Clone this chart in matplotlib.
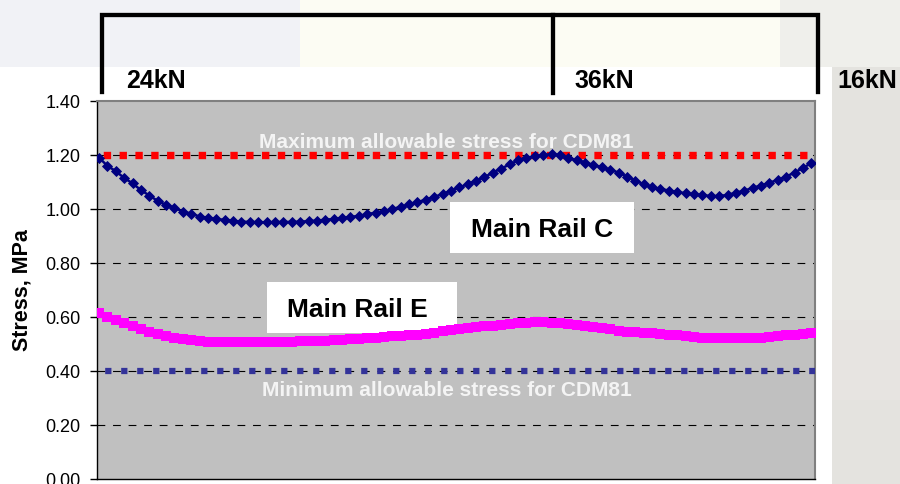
import numpy as np
import matplotlib
matplotlib.use('Agg')
import matplotlib.pyplot as plt
from matplotlib.patches import Rectangle
from matplotlib.lines import Line2D
from matplotlib.transforms import Affine2D

plt.rcParams['font.family'] = ['Liberation Sans', 'DejaVu Sans']

# Stress along the rail (MPa)
rail_c = [
    1.190, 1.160, 1.140, 1.115, 1.095, 1.070, 1.050, 1.030, 1.015, 1.005,
    0.990, 0.983, 0.972, 0.968, 0.962, 0.960, 0.955, 0.953, 0.952, 0.951,
    0.951, 0.951, 0.952, 0.952, 0.953, 0.955, 0.957, 0.960, 0.963, 0.967,
    0.970, 0.975, 0.980, 0.987, 0.992, 1.000, 1.008, 1.017, 1.025, 1.035,
    1.045, 1.055, 1.068, 1.080, 1.092, 1.105, 1.118, 1.135, 1.150, 1.165,
    1.180, 1.190, 1.195, 1.200, 1.203, 1.200, 1.190, 1.180, 1.172, 1.163,
    1.155, 1.145, 1.135, 1.120, 1.105, 1.092, 1.080, 1.075, 1.068, 1.063,
    1.058, 1.054, 1.051, 1.048, 1.048, 1.052, 1.060, 1.068, 1.078, 1.087,
    1.097, 1.108, 1.120, 1.135, 1.152, 1.170,
]
rail_e = [
    0.615, 0.600, 0.590, 0.578, 0.565, 0.555, 0.546, 0.537, 0.528, 0.522,
    0.517, 0.513, 0.510, 0.508, 0.507, 0.507, 0.507, 0.507, 0.508, 0.508,
    0.508, 0.508, 0.509, 0.509, 0.510, 0.510, 0.511, 0.512, 0.514, 0.516,
    0.518, 0.520, 0.522, 0.524, 0.526, 0.528, 0.530, 0.532, 0.535, 0.538,
    0.542, 0.547, 0.552, 0.556, 0.559, 0.562, 0.565, 0.568, 0.571, 0.574,
    0.577, 0.579, 0.580, 0.580, 0.579, 0.576, 0.573, 0.570, 0.566, 0.562,
    0.558, 0.554, 0.550, 0.546, 0.543, 0.541, 0.539, 0.536, 0.534, 0.532,
    0.530, 0.527, 0.524, 0.522, 0.521, 0.521, 0.521, 0.521, 0.521, 0.522,
    0.525, 0.529, 0.533, 0.535, 0.538, 0.541,
]
max_stress = 1.20
min_stress = 0.40
yticks = [0.0, 0.2, 0.4, 0.6, 0.8, 1.0, 1.2, 1.4]

ylabel = 'Stress, MPa'
max_label = 'Maximum allowable stress for CDM81'
min_label = 'Minimum allowable stress for CDM81'
series_labels = ['Main Rail C', 'Main Rail E']
load_labels = ['24kN', '36kN', '16kN']

# Figure in pixels
W, H = 900, 484
fig = plt.figure(figsize=(W / 100, H / 100), dpi=100)
fig.patch.set_facecolor('white')
# pixel coords, origin top-left
px = Affine2D().scale(1 / W, -1 / H).translate(0, 1) + fig.transFigure

# Faded photo behind the chart
for (x0, y0, w, h, c) in [
    (0, 0, 900, 67, '#F1F2F6'),
    (300, 0, 480, 67, '#FCFCF3'),
    (780, 0, 120, 67, '#EFEFEB'),
    (832, 67, 68, 417, '#E4E3DF'),
    (832, 200, 68, 120, '#E8E7E3'),
    (832, 320, 68, 80, '#E7E4E1'),
]:
    fig.add_artist(Rectangle((x0, y0), w, h, transform=px, fc=c, ec='none', zorder=-1))

# Main axes
ax = fig.add_axes([97 / W, 5 / H, 718 / W, 378 / H])
ax.set_facecolor('#C0C0C0')
xs = np.arange(len(rail_c))
ax.set_xlim(-0.24, len(rail_c) - 1 + 0.44)
ax.set_ylim(0, 1.4)
ax.set_xticks([])
ax.set_yticks(yticks)
ax.set_yticklabels([f'{v:.2f}' for v in yticks])
ax.tick_params(axis='y', direction='out', length=5, width=1, pad=7, labelsize=13, colors='black')
for s in ['left', 'bottom']:
    ax.spines[s].set_color('black')
    ax.spines[s].set_linewidth(1.0)
for s in ['top', 'right']:
    ax.spines[s].set_color('#808080')
    ax.spines[s].set_linewidth(1.5)

# Grid lines
for v in yticks[1:-1]:
    ax.axhline(v, color='black', lw=0.8, ls=(0, (7, 7)), zorder=1)

# Allowable stress limits
ax.axhline(max_stress, color='#FF0000', lw=5.3, ls=(1.3, (1, 1.15)), zorder=3)
ax.axhline(min_stress, color='#333399', lw=4.5, ls=(1.25, (1, 1.56)), zorder=3)
ax.text(446, 148, max_label, transform=px, ha='center', va='baseline',
        fontsize=15, fontweight='bold', color='#F4F4F4', zorder=3)
ax.text(447, 396, min_label, transform=px, ha='center', va='baseline',
        fontsize=15, fontweight='bold', color='#F4F4F4', zorder=3)

# Series label boxes
ax.add_patch(Rectangle((450, 202), 184, 51, transform=px, fc='white', ec='none', zorder=2))
ax.add_patch(Rectangle((267, 282), 190, 51, transform=px, fc='white', ec='none', zorder=2))
ax.text(471, 237, series_labels[0], transform=px, ha='left', va='baseline',
        fontsize=19, fontweight='bold', color='black', zorder=2.5)
ax.text(287, 317, series_labels[1], transform=px, ha='left', va='baseline',
        fontsize=19, fontweight='bold', color='black', zorder=2.5)

# Series
ax.plot(xs, rail_e, color='#FF00FF', marker='s', ms=7.2, mew=0, lw=3.5, zorder=4)
ax.plot(xs, rail_c, color='#000080', marker='D', ms=5.2, mew=0.6, mec='#000080', lw=1.8, zorder=5)

# Y label
fig.text(28, 290, ylabel, transform=px, rotation=90, rotation_mode='anchor',
         ha='center', va='baseline', fontsize=15.5, fontweight='bold', color='black')

# Load brackets on top
fig.add_artist(Line2D([101.5, 101.5, 818, 818], [92, 14.5, 14.5, 92], transform=px,
                      color='black', lw=3.1, solid_joinstyle='miter', zorder=3))
fig.add_artist(Line2D([552.5, 552.5], [14.5, 93], transform=px,
                      color='black', lw=3.1, zorder=3))
for lab, xl in zip(load_labels, [126, 574, 837]):
    fig.text(xl, 88, lab, transform=px, ha='left', va='baseline',
             fontsize=18, fontweight='bold', color='black', zorder=3)

fig.savefig('out.png', dpi=100)
